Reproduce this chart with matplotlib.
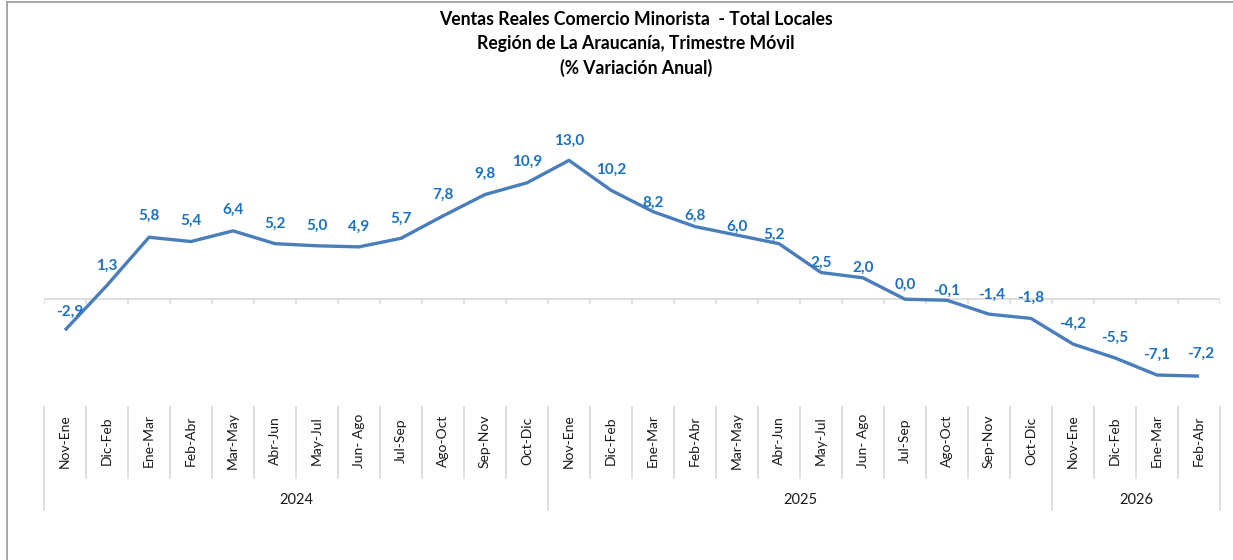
import matplotlib.pyplot as plt
from matplotlib.lines import Line2D

plt.rcParams['font.family'] = ['Lato', 'DejaVu Sans']

periodos = ['Nov-Ene', 'Dic-Feb', 'Ene-Mar', 'Feb-Abr', 'Mar-May', 'Abr-Jun', 'May-Jul', 'Jun- Ago',
            'Jul-Sep', 'Ago-Oct', 'Sep-Nov', 'Oct-Dic',
            'Nov-Ene', 'Dic-Feb', 'Ene-Mar', 'Feb-Abr', 'Mar-May', 'Abr-Jun', 'May-Jul', 'Jun- Ago',
            'Jul-Sep', 'Ago-Oct', 'Sep-Nov', 'Oct-Dic',
            'Nov-Ene', 'Dic-Feb', 'Ene-Mar', 'Feb-Abr']
variacion = [-2.9, 1.3, 5.8, 5.4, 6.4, 5.2, 5.0, 4.9, 5.7, 7.8, 9.8, 10.9,
             13.0, 10.2, 8.2, 6.8, 6.0, 5.2, 2.5, 2.0, 0.0, -0.1, -1.4, -1.8,
             -4.2, -5.5, -7.1, -7.2]
anios = ['2024', '2025', '2026']
n_por_anio = [12, 12, 4]

# label offsets in pixels (dx, dy)
offsets = [(5, 18), (0, 20), (0, 21), (0, 21), (0, 21), (0, 20), (0, 20), (0, 20),
           (0, 20), (0, 21), (0, 21), (0, 21),
           (0, 20), (0, 20), (0, 9), (0, 11), (0, 8), (-5, 9), (0, 10), (0, 10),
           (0, 14), (0, 9), (3, 19), (0, 21),
           (0, 20), (0, 20), (0, 20), (2, 22)]

azul = '#4a7ebb'
gris = '#d9d9d9'

fig = plt.figure(figsize=(12.33, 5.6), dpi=100)
ax = fig.add_axes([44 / 1233, 1 - 406 / 560, (1220 - 44) / 1233, 267 / 560])
x = list(range(len(variacion)))
ax.set_xlim(-0.5, len(variacion) - 0.5)
ax.set_ylim(-10, 15)
ax.axis('off')

ax.axhline(0, color=gris, lw=1.2, zorder=1)
for k in range(len(variacion) + 1):
    ax.plot([k - 0.5, k - 0.5], [0, -0.4], color=gris, lw=1.2, zorder=1)

ax.plot(x, variacion, color=azul, lw=2.4, zorder=3, solid_capstyle='butt')

for xi, v, (dx, dy) in zip(x, variacion, offsets):
    ax.annotate(f'{v:.1f}'.replace('.', ','), (xi, v), xytext=(dx, dy),
                textcoords='offset pixels', ha='center', va='center',
                fontsize=11, fontweight='bold', color='#1a72c4', zorder=4)

tr = ax.get_xaxis_transform()
for xi, lab in zip(x, periodos):
    ax.text(xi, -0.131, lab, rotation=90, ha='center', va='center',
            fontsize=10, transform=tr, color='#1a1a1a')

bordes = [0]
for n in n_por_anio:
    bordes.append(bordes[-1] + n)
for k in range(len(variacion) + 1):
    y_fin = -0.39 if k in bordes else -0.27
    ax.add_line(Line2D([k - 0.5, k - 0.5], [-0.004, y_fin], color=gris, lw=1.2,
                       transform=tr, clip_on=False))
for i, a in enumerate(anios):
    centro = (bordes[i] + bordes[i + 1]) / 2 - 0.5
    ax.text(centro, -0.352, a, ha='center', va='center', fontsize=10.5,
            transform=tr, color='#1a1a1a')

titulo = ('Ventas Reales Comercio Minorista  - Total Locales\n'
          'Región de La Araucanía, Trimestre Móvil\n'
          '(% Variación Anual)')
fig.text(636 / 1233, 1 - 44 / 560, titulo, ha='center', va='center',
         fontsize=12.7, fontweight='bold', linespacing=1.48)

fig.add_artist(Line2D([6.5 / 1233, 6.5 / 1233], [0, 1 - 2 / 560], color='#a0a0a0',
                      lw=1.3, transform=fig.transFigure))
fig.add_artist(Line2D([6.5 / 1233, 1], [1 - 2 / 560, 1 - 2 / 560], color='#a0a0a0',
                      lw=1.3, transform=fig.transFigure))

fig.savefig('out.png', dpi=100)
